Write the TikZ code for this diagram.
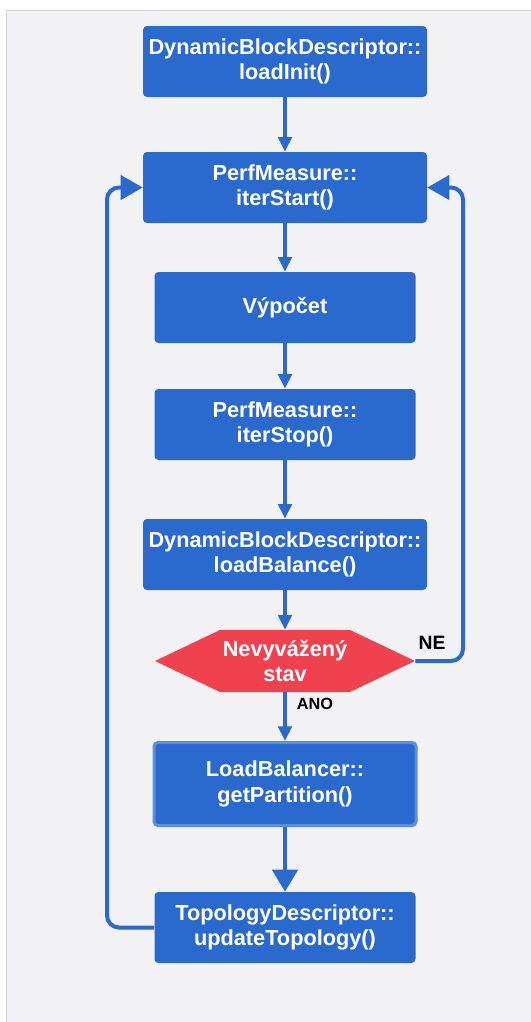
\documentclass[tikz,border=0pt]{standalone}
\usepackage{fontspec}
\setmainfont{Liberation Sans}
\usetikzlibrary{arrows.meta}
\definecolor{bblue}{HTML}{2A6ACF}
\definecolor{bred}{HTML}{EF424E}
\definecolor{panel}{HTML}{F2F2F4}
\definecolor{pborder}{HTML}{D4D4D6}
\definecolor{lborder}{HTML}{5A8FE0}
\begin{document}
\begin{tikzpicture}[x=0.75pt,y=-0.75pt,
  lbl/.style={text=white, font=\bfseries\fontsize{16.3}{19.2}\selectfont, align=center, inner sep=0pt},
  box/.style={lbl, fill=bblue, rounded corners=3pt, minimum height=53.25pt},
  wide/.style={box, minimum width=213pt},
  narrow/.style={box, minimum width=195.75pt},
  flow/.style={draw=bblue, line width=3pt, -{Triangle[length=11pt,width=10pt]}},
  bigflow/.style={draw=bblue, line width=3.4pt, -{Triangle[length=16.5pt,width=18.75pt]}},
  loopback/.style={draw=bblue, line width=3pt, rounded corners=9pt, -{Triangle[length=16.5pt,width=18pt]}},
  branch/.style={font=\bfseries\fontsize{14.5}{16}\selectfont, text=black, inner sep=0pt}
]
\useasboundingbox (0,0) rectangle (531,1022);
\fill[panel] (6,10) rectangle (531,1022);
\draw[pborder, line width=1pt] (6.5,1022) -- (6.5,10.5) -- (531,10.5);

\node[wide] (b1) at (285,61.5) {DynamicBlockDescriptor::\\loadInit()};
\node[wide] (b2) at (285,187.5) {PerfMeasure::\\iterStart()};
\node[narrow] (b3) at (285,307.5) {Výpočet};
\node[narrow] (b4) at (285,424.5) {PerfMeasure::\\iterStop()};
\node[wide] (b5) at (285,554.5) {DynamicBlockDescriptor::\\loadBalance()};
\fill[bred] (155,661) -- (220,630) -- (350,630) -- (415,661) -- (350,692) -- (220,692) -- cycle;
\node[lbl, minimum width=195pt, minimum height=46.5pt] (hex) at (285,661) {Nevyvážený\\stav};
\node[box, draw=lborder, line width=2.25pt, minimum width=196.5pt, minimum height=62.25pt] (b7) at (285,784) {LoadBalancer::\\getPartition()};
\node[narrow] (b8) at (285,927.5) {TopologyDescriptor::\\updateTopology()};

\node[branch] (ne) at (432,643) {NE};
\node[branch, font=\bfseries\fontsize{12.2}{14}\selectfont] (ano) at (315,704) {ANO};

\draw[flow] (b1) -- (b2);
\draw[flow] (b2) -- (b3);
\draw[flow] (b3) -- (b4);
\draw[flow] (b4) -- (b5);
\draw[flow] (b5) -- (hex);
\draw[flow] (hex) -- (b7);
\draw[bigflow] (b7) -- (b8);
\draw[loopback] (b8.west) -- (107,927.5) -- (107,187.5) -- (b2.west);
\draw[loopback] (hex.east) -- (463,661) -- (463,187.5) -- (b2.east);
\end{tikzpicture}
\end{document}
